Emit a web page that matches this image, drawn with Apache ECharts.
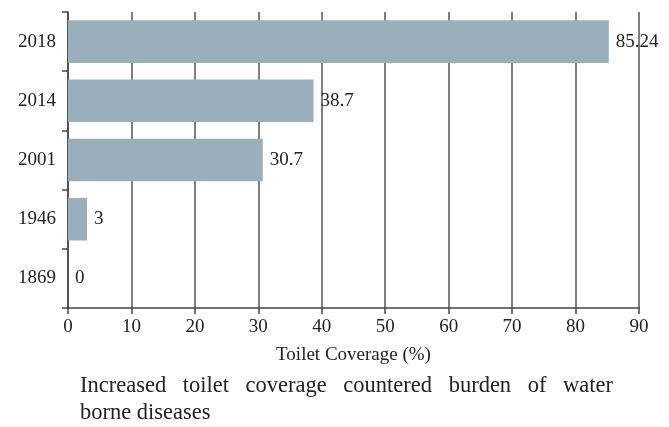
<!DOCTYPE html>
<html>
<head>
<meta charset="utf-8">
<script src="https://cdn.jsdelivr.net/npm/echarts@6/dist/echarts.min.js"></script>
<style>
  html, body { margin: 0; padding: 0; background: #fff; }
  #wrap { position: relative; width: 669px; height: 427px; }
  #chart { position: absolute; left: 0; top: 0; width: 669px; height: 427px; }
  #caption {
    position: absolute; left: 80px; top: 371px; width: 533px;
    font-family: "Liberation Serif", "DejaVu Serif", serif;
    font-size: 22.5px; line-height: 27px; color: #222;
  }
  #caption .l1 { text-align: justify; text-align-last: justify; }
</style>
</head>
<body>
<div id="wrap">
  <div id="chart"></div>
  <div id="caption"><div class="l1">Increased toilet coverage countered burden of water</div><div>borne diseases</div></div>
</div>
<script>
  // data, bottom to top
  var years = ['1869', '1946', '2001', '2014', '2018'];
  var coverage = [0, 3, 30.7, 38.7, 85.24];
  var xTicks = [0, 90, 10];   // min, max, step

  var serif = '"Liberation Serif", "DejaVu Serif", serif';
  var chart = echarts.init(document.getElementById('chart'));
  var option = {
    animation: false,
    grid: { left: 68, right: 30, top: 12, bottom: 119, containLabel: false },
    xAxis: {
      type: 'value',
      min: xTicks[0],
      max: xTicks[1],
      interval: xTicks[2],
      name: 'Toilet Coverage (%)',
      nameLocation: 'middle',
      nameGap: 38,
      nameTextStyle: { fontFamily: serif, fontSize: 19, color: '#222' },
      axisLine: { show: true, lineStyle: { color: '#444', width: 1.5 } },
      axisTick: { show: true, length: 6, lineStyle: { color: '#444', width: 1.5 } },
      axisLabel: { fontFamily: serif, fontSize: 19, color: '#222', margin: 10 },
      splitLine: { show: true, lineStyle: { color: '#555', width: 1.5 } }
    },
    yAxis: {
      type: 'category',
      data: years,
      axisLine: { show: true, lineStyle: { color: '#444', width: 1.5 } },
      axisTick: { show: true, length: 6, alignWithLabel: false, lineStyle: { color: '#444', width: 1.5 } },
      axisLabel: { fontFamily: serif, fontSize: 19, color: '#222', margin: 12 },
      splitLine: { show: false }
    },
    series: [{
      type: 'bar',
      data: coverage,
      barCategoryGap: '28%',
      itemStyle: { color: '#99afbc' },
      label: {
        show: true,
        position: 'right',
        distance: 7,
        fontFamily: serif,
        fontSize: 19,
        color: '#222'
      }
    }]
  };
  chart.setOption(option);
</script>
</body>
</html>
